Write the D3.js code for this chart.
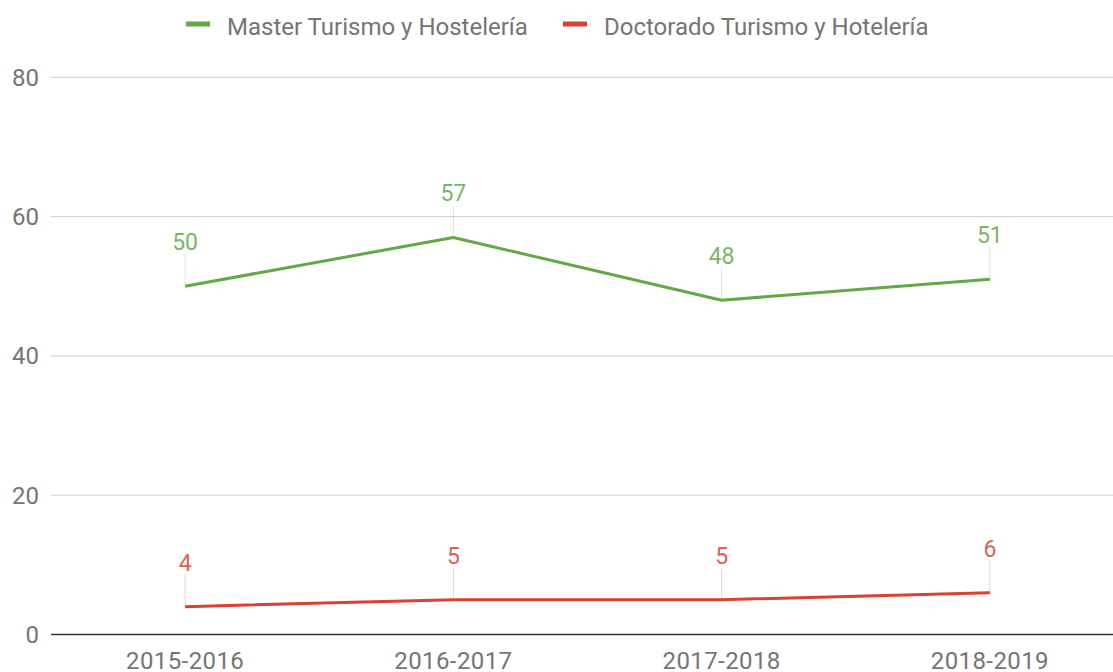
<!DOCTYPE html>
<html>
<head>
<meta charset="utf-8">
<script src="https://cdn.jsdelivr.net/npm/d3@7"></script>
<style>
  body { margin: 0; background: #fff; }
  svg { display: block; font-family: Roboto, "Noto Sans", sans-serif; }
</style>
</head>
<body>
<svg id="chart" width="1113" height="672"></svg>
<script>
const years = ['2015-2016', '2016-2017', '2017-2018', '2018-2019'];
const master = [50, 57, 48, 51];
const doctorado = [4, 5, 5, 6];
const yTicks = [0, 20, 40, 60, 80];
const seriesNames = ['Master Turismo y Hostelería', 'Doctorado Turismo y Hotelería'];
const seriesColors = ['#62a845', '#dc3f33'];

const svg = d3.select('#chart');
const plotLeft = 51, plotRight = 1124, plotTop = 77.3, plotBottom = 634.5;

const x = d3.scaleBand().domain(years).range([plotLeft, plotRight]);
const y = d3.scaleLinear().domain([0, 80]).range([plotBottom, plotTop]);

// gridlines
svg.append('g')
  .selectAll('line')
  .data(yTicks.filter(t => t !== 0))
  .join('line')
  .attr('x1', plotLeft).attr('x2', plotRight)
  .attr('y1', d => y(d)).attr('y2', d => y(d))
  .attr('stroke', '#cccccc').attr('stroke-width', 1);

// y labels
svg.append('g')
  .selectAll('text')
  .data(yTicks)
  .join('text')
  .attr('x', 39)
  .attr('y', d => y(d))
  .attr('dy', '0.35em')
  .attr('text-anchor', 'end')
  .attr('font-size', 24)
  .attr('fill', '#757575')
  .text(d => d);

// baseline
svg.append('line')
  .attr('x1', plotLeft).attr('x2', plotRight)
  .attr('y1', y(0)).attr('y2', y(0))
  .attr('stroke', '#333').attr('stroke-width', 1.5);

// x labels
svg.append('g')
  .selectAll('text')
  .data(years)
  .join('text')
  .attr('x', d => x(d) + x.bandwidth() / 2)
  .attr('y', 669)
  .attr('text-anchor', 'middle')
  .attr('font-size', 24)
  .attr('letter-spacing', 0.4)
  .attr('fill', '#757575')
  .text(d => d);

const series = [master, doctorado];
const line = d3.line()
  .x((d, i) => x(years[i]) + x.bandwidth() / 2)
  .y(d => y(d));

series.forEach((vals, s) => {
  const g = svg.append('g');
  const pts = vals.map((v, i) => ({ v, cx: x(years[i]) + x.bandwidth() / 2, cy: y(v) }));

  // leader lines
  g.selectAll('line.leader')
    .data(pts)
    .join('line')
    .attr('class', 'leader')
    .attr('x1', d => d.cx).attr('x2', d => d.cx)
    .attr('y1', d => d.cy - 32).attr('y2', d => d.cy)
    .attr('stroke', seriesColors[s]).attr('stroke-opacity', 0.25)
    .attr('stroke-width', 1);

  g.append('path')
    .datum(vals)
    .attr('d', line)
    .attr('fill', 'none')
    .attr('stroke', seriesColors[s])
    .attr('stroke-width', 3)
    .attr('stroke-linejoin', 'round');

  g.selectAll('text')
    .data(pts)
    .join('text')
    .attr('x', d => d.cx)
    .attr('y', d => d.cy - 36)
    .attr('text-anchor', 'middle')
    .attr('font-size', 23)
    .attr('fill', seriesColors[s])
    .attr('fill-opacity', 0.85)
    .text(d => d.v);
});

// legend
const legendX = [186, 563];
const legend = svg.append('g')
  .selectAll('g')
  .data(seriesNames)
  .join('g')
  .attr('transform', (d, i) => `translate(${legendX[i]},0)`);
legend.append('rect')
  .attr('x', 0).attr('y', 21.5)
  .attr('width', 24).attr('height', 5)
  .attr('fill', (d, i) => seriesColors[i]);
legend.append('text')
  .attr('x', 41).attr('y', 35)
  .attr('font-size', 24)
  .attr('fill', '#757575')
  .text(d => d);
</script>
</body>
</html>
